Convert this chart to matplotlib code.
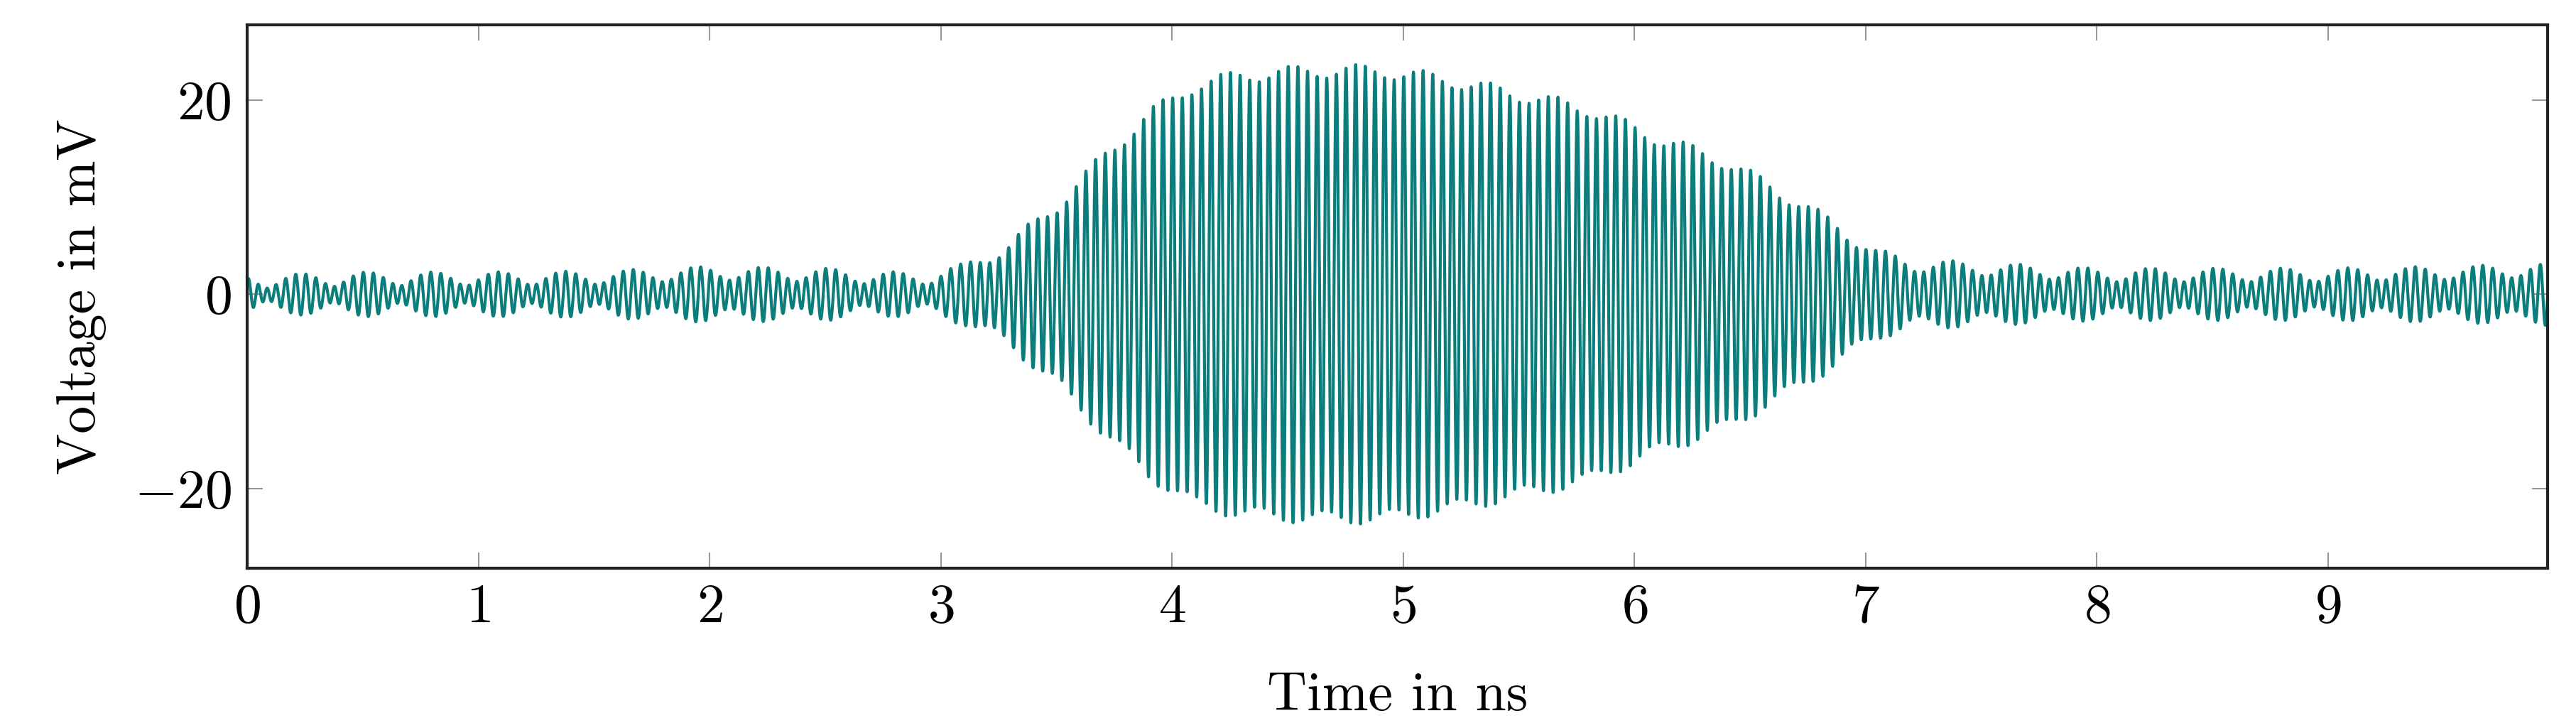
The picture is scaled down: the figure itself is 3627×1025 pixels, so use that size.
import numpy as np
import matplotlib
matplotlib.use("Agg")
import matplotlib.pyplot as plt

env_t = [0.0, 0.5, 1.0, 1.5, 2.0, 2.5, 2.9, 3.1, 3.3, 3.5, 3.7, 3.9, 4.1, 4.3, 4.6, 4.9, 5.2, 5.5, 5.8, 6.1, 6.4, 6.7, 6.9, 7.05, 7.2, 7.5, 8.0, 8.5, 9.0, 9.5, 9.95]
env_a = [1.3, 1.6, 1.6, 1.7, 2.2, 2.0, 1.5, 2.5, 5.0, 9.0, 14.0, 18.5, 21.5, 22.5, 23.0, 23.0, 22.0, 20.5, 19.0, 16.0, 13.5, 9.5, 6.5, 4.0, 3.0, 2.6, 2.0, 2.0, 2.0, 2.2, 2.5]
carrier_ghz = 24.0
beat_ghz = 20.5
beat_mv = 0.7

t = np.linspace(0, 9.95, 20000)
env = np.interp(t, env_t, env_a)
v = env * np.sin(2*np.pi*carrier_ghz*t + 1.2) + beat_mv*np.sin(2*np.pi*beat_ghz*t)

plt.rcParams['font.family'] = ['cmr10']
plt.rcParams['mathtext.fontset'] = 'cm'
plt.rcParams['axes.formatter.use_mathtext'] = True

fig = plt.figure(figsize=(36.27, 10.25), dpi=100)
ax = fig.add_axes([0.096, 0.22, 0.893, 0.746])
ax.plot(t, v, color='#0b7d7a', lw=3)
ax.set_xlim(0, 9.95)
ax.set_ylim(-28.2, 27.8)
ax.set_xticks(range(10))
ax.set_yticks([-20, 0, 20])
ax.tick_params(direction='in', length=16, width=1.5, color='#999999',
               top=True, right=True, labelsize=56, pad=16)
for s in ax.spines.values():
    s.set_linewidth(3)
    s.set_color('#222222')
ax.set_xlabel('Time in ns', fontsize=56, labelpad=40)
ax.set_ylabel('Voltage in mV', fontsize=56, labelpad=28)
fig.savefig('out.png', dpi=100)
